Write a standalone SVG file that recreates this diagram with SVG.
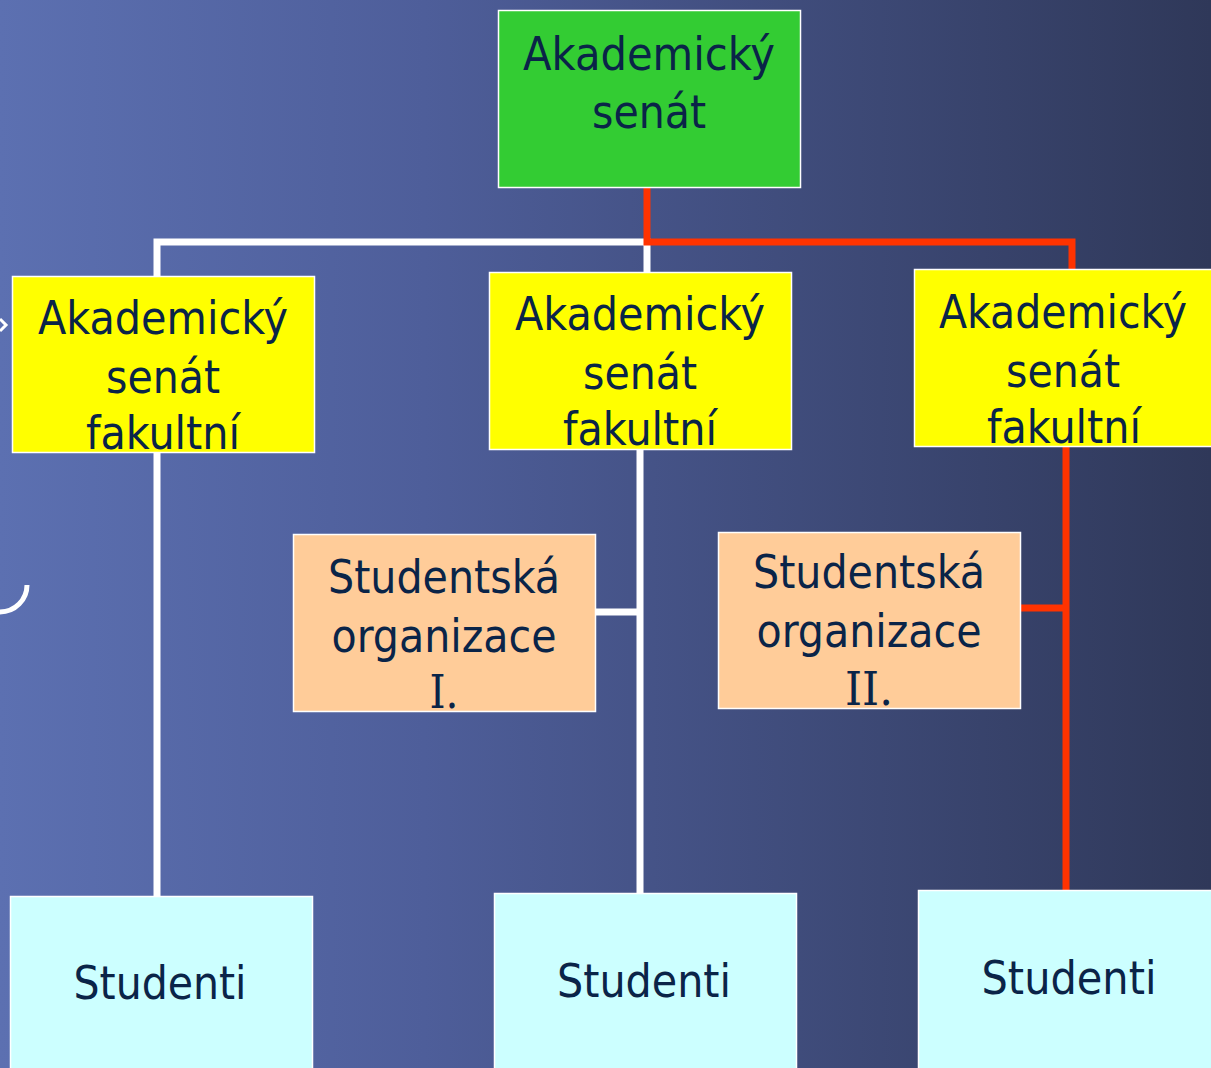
<svg xmlns="http://www.w3.org/2000/svg" width="1211" height="1068" viewBox="0 0 1211 1068">
<defs>
<linearGradient id="bg" x1="0" y1="0" x2="1" y2="0">
<stop offset="0" stop-color="#5c70b1"/>
<stop offset="0.35" stop-color="#4e5e9a"/>
<stop offset="1" stop-color="#2f3859"/>
</linearGradient>
</defs>
<style>
.box{stroke:#ffffff;stroke-width:1.5}
.green{fill:#33cc33}
.yellow{fill:#ffff00}
.peach{fill:#ffcc99}
.cyan{fill:#ccffff}
text{font-family:"DejaVu Sans Condensed","DejaVu Sans",sans-serif;font-size:47px;fill:#0a2448;text-anchor:middle}
text.num{font-family:"DejaVu Serif Condensed","DejaVu Serif",serif}
.w{stroke:#ffffff;stroke-width:7;fill:none}
.r{stroke:#ff3300;stroke-width:7;fill:none}
</style>
<rect x="0" y="0" width="1211" height="1068" fill="url(#bg)"/>
<g id="decor">
<polyline points="0,319 6,325 0,331" fill="none" stroke="#ffffff" stroke-width="3"/>
<path d="M27,585 A27,27 0 0 1 0,612" fill="none" stroke="#ffffff" stroke-width="5"/>
</g>
<g id="connectors">
<polyline class="w" points="157,276 157,242 647,242 647,272"/>
<polyline class="r" points="647,187 647,242 1072,242 1072,270"/>
<line class="w" x1="157" y1="452" x2="157" y2="896"/>
<line class="w" x1="640" y1="449" x2="640" y2="893"/>
<line class="w" x1="596" y1="612" x2="640" y2="612"/>
<line class="r" x1="1066" y1="446" x2="1066" y2="890"/>
<line class="r" x1="1021" y1="608" x2="1066" y2="608"/>
</g>
<g id="senat">
<rect class="box green" x="498.5" y="10.5" width="302" height="177"/>
<text x="649" y="70" textLength="252" lengthAdjust="spacingAndGlyphs">Akademický</text>
<text x="649" y="128" textLength="114" lengthAdjust="spacingAndGlyphs">senát</text>
</g>
<g id="fak1">
<rect class="box yellow" x="12.5" y="276.5" width="302" height="176"/>
<text x="163" y="334" textLength="250" lengthAdjust="spacingAndGlyphs">Akademický</text>
<text x="163" y="393" textLength="114" lengthAdjust="spacingAndGlyphs">senát</text>
<text x="163" y="449" textLength="154" lengthAdjust="spacingAndGlyphs">fakultní</text>
</g>
<g id="fak2">
<rect class="box yellow" x="489.5" y="272.5" width="302" height="177"/>
<text x="640" y="330" textLength="250" lengthAdjust="spacingAndGlyphs">Akademický</text>
<text x="640" y="389" textLength="114" lengthAdjust="spacingAndGlyphs">senát</text>
<text x="640" y="445" textLength="154" lengthAdjust="spacingAndGlyphs">fakultní</text>
</g>
<g id="fak3">
<rect class="box yellow" x="914.5" y="269.5" width="300" height="177"/>
<text x="1063" y="328" textLength="248" lengthAdjust="spacingAndGlyphs">Akademický</text>
<text x="1063" y="387" textLength="114" lengthAdjust="spacingAndGlyphs">senát</text>
<text x="1064" y="443" textLength="154" lengthAdjust="spacingAndGlyphs">fakultní</text>
</g>
<g id="org1">
<rect class="box peach" x="293.5" y="534.5" width="302" height="177"/>
<text x="444" y="593" textLength="232" lengthAdjust="spacingAndGlyphs">Studentská</text>
<text x="444" y="652" textLength="225" lengthAdjust="spacingAndGlyphs">organizace</text>
<text class="num" x="444" y="708" textLength="29" lengthAdjust="spacingAndGlyphs">I.</text>
</g>
<g id="org2">
<rect class="box peach" x="718.5" y="532.5" width="302" height="176"/>
<text x="869" y="588" textLength="232" lengthAdjust="spacingAndGlyphs">Studentská</text>
<text x="869" y="647" textLength="225" lengthAdjust="spacingAndGlyphs">organizace</text>
<text class="num" x="869" y="705" textLength="48" lengthAdjust="spacingAndGlyphs">II.</text>
</g>
<g id="stud1">
<rect class="box cyan" x="10.5" y="896.5" width="302" height="180"/>
<text x="160" y="999" textLength="173" lengthAdjust="spacingAndGlyphs">Studenti</text>
</g>
<g id="stud2">
<rect class="box cyan" x="494.5" y="893.5" width="302" height="180"/>
<text x="644" y="997" textLength="174" lengthAdjust="spacingAndGlyphs">Studenti</text>
</g>
<g id="stud3">
<rect class="box cyan" x="918.5" y="890.5" width="300" height="180"/>
<text x="1069" y="994" textLength="175" lengthAdjust="spacingAndGlyphs">Studenti</text>
</g>
</svg>
